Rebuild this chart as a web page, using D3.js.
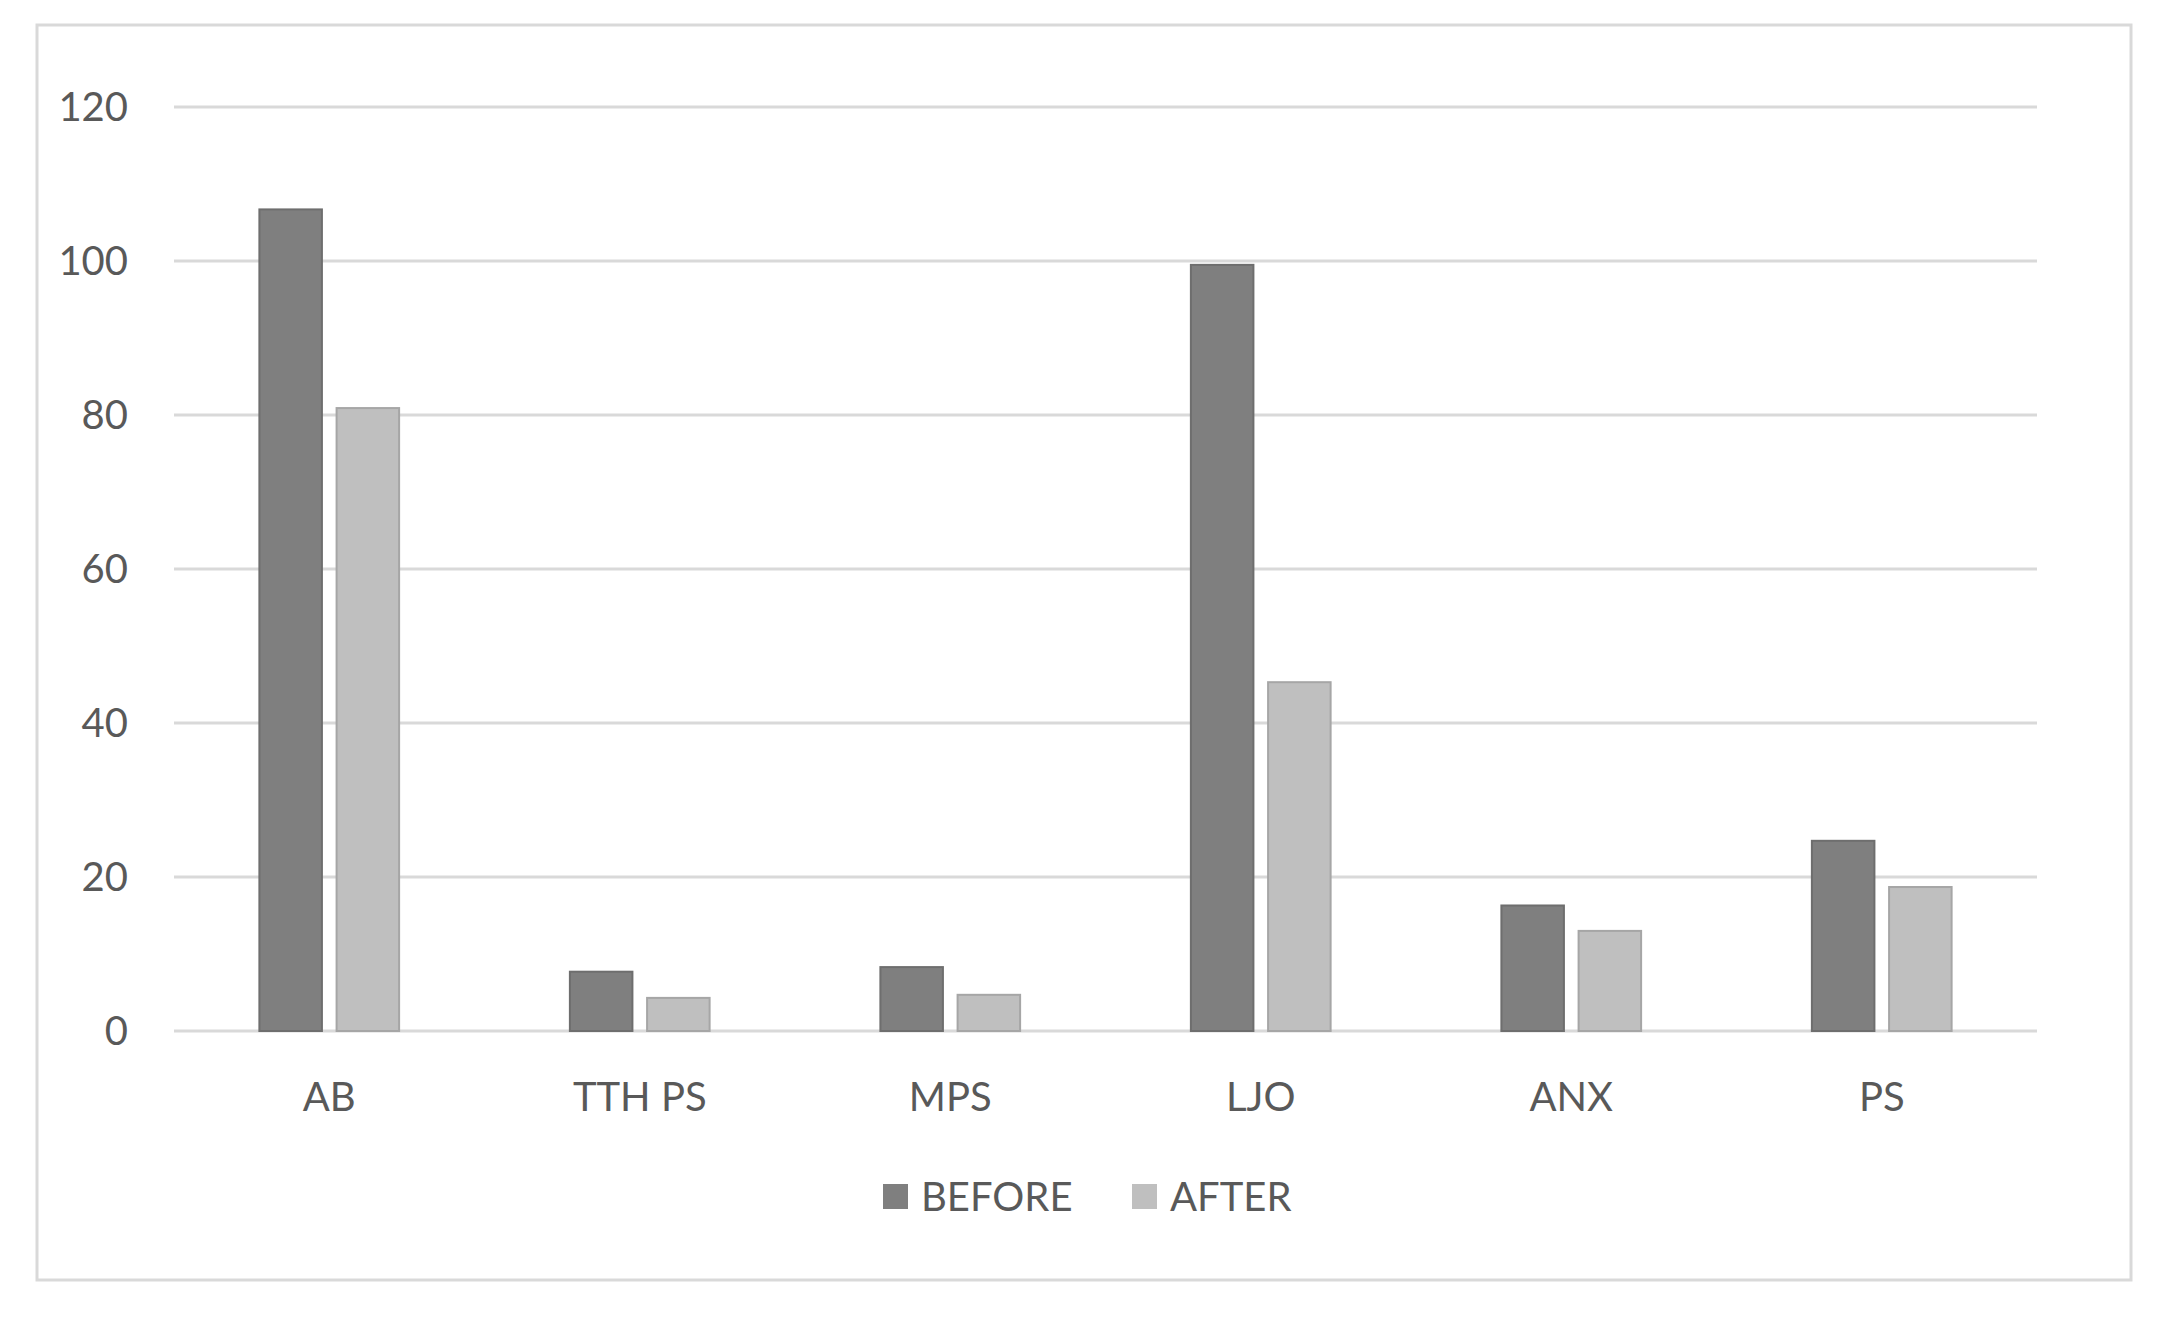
<!DOCTYPE html><html><head><meta charset="utf-8">
<script src="https://cdn.jsdelivr.net/npm/d3@7"></script>
<style>body{margin:0;background:#fff}text{font-family:Lato,"Open Sans",sans-serif;fill:#595959}</style></head><body>
<script>
const categories=["AB","TTH PS","MPS","LJO","ANX","PS"];
const before=[106.7,7.7,8.3,99.5,16.3,24.7];
const after=[80.9,4.3,4.7,45.3,13,18.7];
const seriesNames=["BEFORE","AFTER"];
const colors=["#7f7f7f","#bfbfbf"];
const yTicks=[0,20,40,60,80,100,120];
const W=2164,H=1321;
const svg=d3.select("body").append("svg").attr("width",W).attr("height",H);
svg.append("rect").attr("x",37).attr("y",25).attr("width",2094).attr("height",1255).attr("fill","#fff").attr("stroke","#d9d9d9").attr("stroke-width",3);
const x0=d3.scaleBand().domain(categories).range([174,2037]).paddingInner(0.55).paddingOuter(0.275);
const x1=d3.scaleBand().domain(seriesNames).range([0,x0.bandwidth()]).paddingInner(0.19);
const y=d3.scaleLinear().domain([0,120]).range([1031,107]);
svg.append("g").selectAll("line").data(yTicks).join("line").attr("x1",174).attr("x2",2037).attr("y1",d=>y(d)).attr("y2",d=>y(d)).attr("stroke","#d9d9d9").attr("stroke-width",3);
svg.append("g").selectAll("text").data(yTicks).join("text").attr("x",128).attr("y",d=>y(d)).attr("dy","0.35em").attr("text-anchor","end").attr("font-size",40).text(d=>d);
const data=[before,after];
data.forEach((vals,s)=>{
 svg.append("g").selectAll("rect").data(vals).join("rect")
 .attr("x",(d,i)=>x0(categories[i])+x1(seriesNames[s])).attr("width",x1.bandwidth())
 .attr("y",d=>y(d)).attr("height",d=>y(0)-y(d)).attr("fill",colors[s]).attr("stroke",s?"#a6a6a6":"#6e6e6e").attr("stroke-width",2);
});
svg.append("g").selectAll("text").data(categories).join("text").attr("x",d=>x0(d)+x0.bandwidth()/2).attr("y",1097).attr("dy","0.35em").attr("text-anchor","middle").attr("font-size",40).text(d=>d);
const lx=[883,1132];
seriesNames.forEach((n,i)=>{
 svg.append("rect").attr("x",lx[i]).attr("y",1184).attr("width",25).attr("height",25).attr("fill",colors[i]);
 svg.append("text").attr("x",lx[i]+38).attr("y",1197).attr("dy","0.35em").attr("font-size",40).text(n);
});
</script></body></html>
